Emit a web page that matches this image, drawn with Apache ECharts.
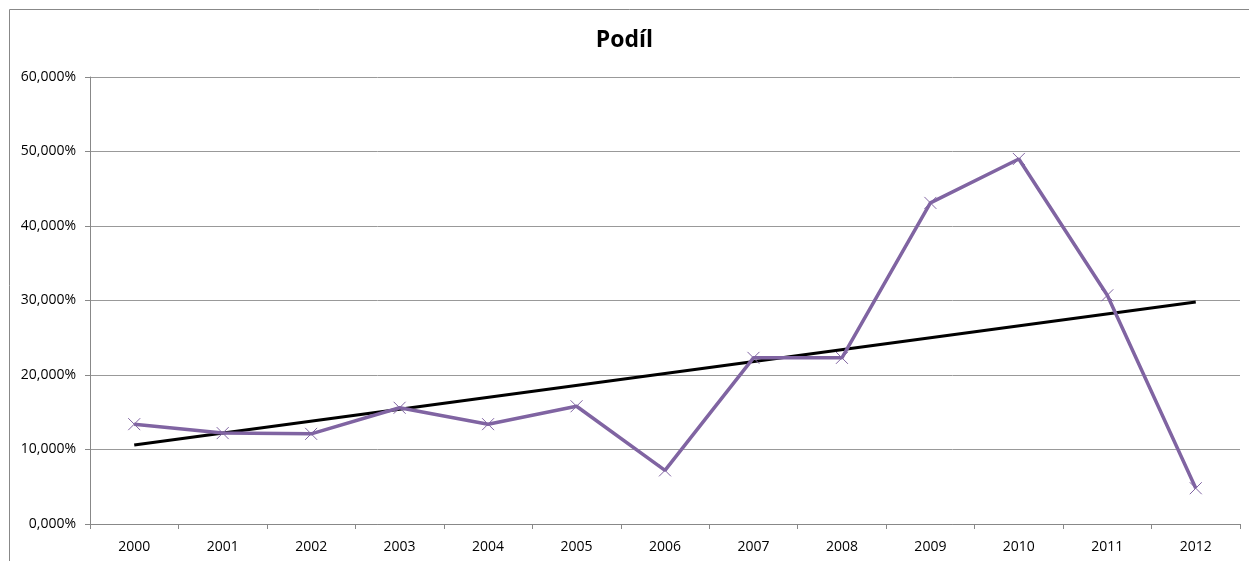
<!DOCTYPE html>
<html>
<head>
    <meta charset="utf-8" />
    <title>Podíl</title>
    <style>
        html, body { margin: 0; padding: 0; background: #fff; }
        #chart { width: 1249px; height: 561px; }
    </style>
</head>
<body>
    <div id="chart"></div>
    <script src="https://cdn.jsdelivr.net/npm/echarts@6/dist/echarts.min.js"></script>
<script>
    // data (percent)
    var years = ["2000", "2001", "2002", "2003", "2004", "2005", "2006", "2007", "2008", "2009", "2010", "2011", "2012"];
    var podil = [13.4, 12.2, 12.1, 15.6, 13.4, 15.8, 7.2, 22.3, 22.3, 43.1, 49.0, 30.7, 4.8];
    // trend line: only the two end points
    var trend = [10.6, null, null, null, null, null, null, null, null, null, null, null, 29.8];

    var font = "'Open Sans', 'DejaVu Sans', sans-serif";
    var myChart = echarts.init(document.getElementById("chart"));
    var option = {
        animation: false,
        title: {
            text: "Podíl",
            left: "center",
            top: 24,
            textStyle: { fontFamily: font, fontSize: 23, fontWeight: "bold", color: "#000" }
        },
        graphic: [{
            type: "rect",
            shape: { x: 9.5, y: 9.5, width: 1300, height: 600 },
            style: { fill: "none", stroke: "#888", lineWidth: 1 },
            silent: true
        }],
        grid: { left: 90, right: 9, top: 77, bottom: 37 },
        xAxis: {
            type: "category",
            data: years,
            boundaryGap: true,
            axisLine: { lineStyle: { color: "#888" } },
            axisTick: { show: true, length: 5, lineStyle: { color: "#888" } },
            axisLabel: { fontFamily: font, fontSize: 14, color: "#000", margin: 16 }
        },
        yAxis: {
            type: "value",
            min: 0,
            max: 60,
            interval: 10,
            axisLine: { show: true, lineStyle: { color: "#888" } },
            axisTick: { show: true, length: 5, lineStyle: { color: "#888" } },
            splitLine: { lineStyle: { color: "#999" } },
            axisLabel: {
                fontFamily: font, fontSize: 14, color: "#000", margin: 14,
                formatter: function (v) { return v.toFixed(3).replace(".", ",") + "%"; }
            }
        },
        series: [
            {
                name: "Podíl",
                type: "line",
                data: podil,
                symbol: "path://M0,0L10,10M10,0L0,10",
                symbolSize: 12,
                itemStyle: { color: "#8064A2", borderColor: "#8064A2", borderWidth: 1 },
                lineStyle: { color: "#8064A2", width: 3.5 },
                z: 3
            },
            {
                name: "trend",
                type: "line",
                data: trend,
                connectNulls: true,
                showSymbol: false,
                symbol: "none",
                lineStyle: { color: "#000", width: 3 },
                z: 2
            }
        ]
    };
    myChart.setOption(option);
</script>
</body>
</html>
